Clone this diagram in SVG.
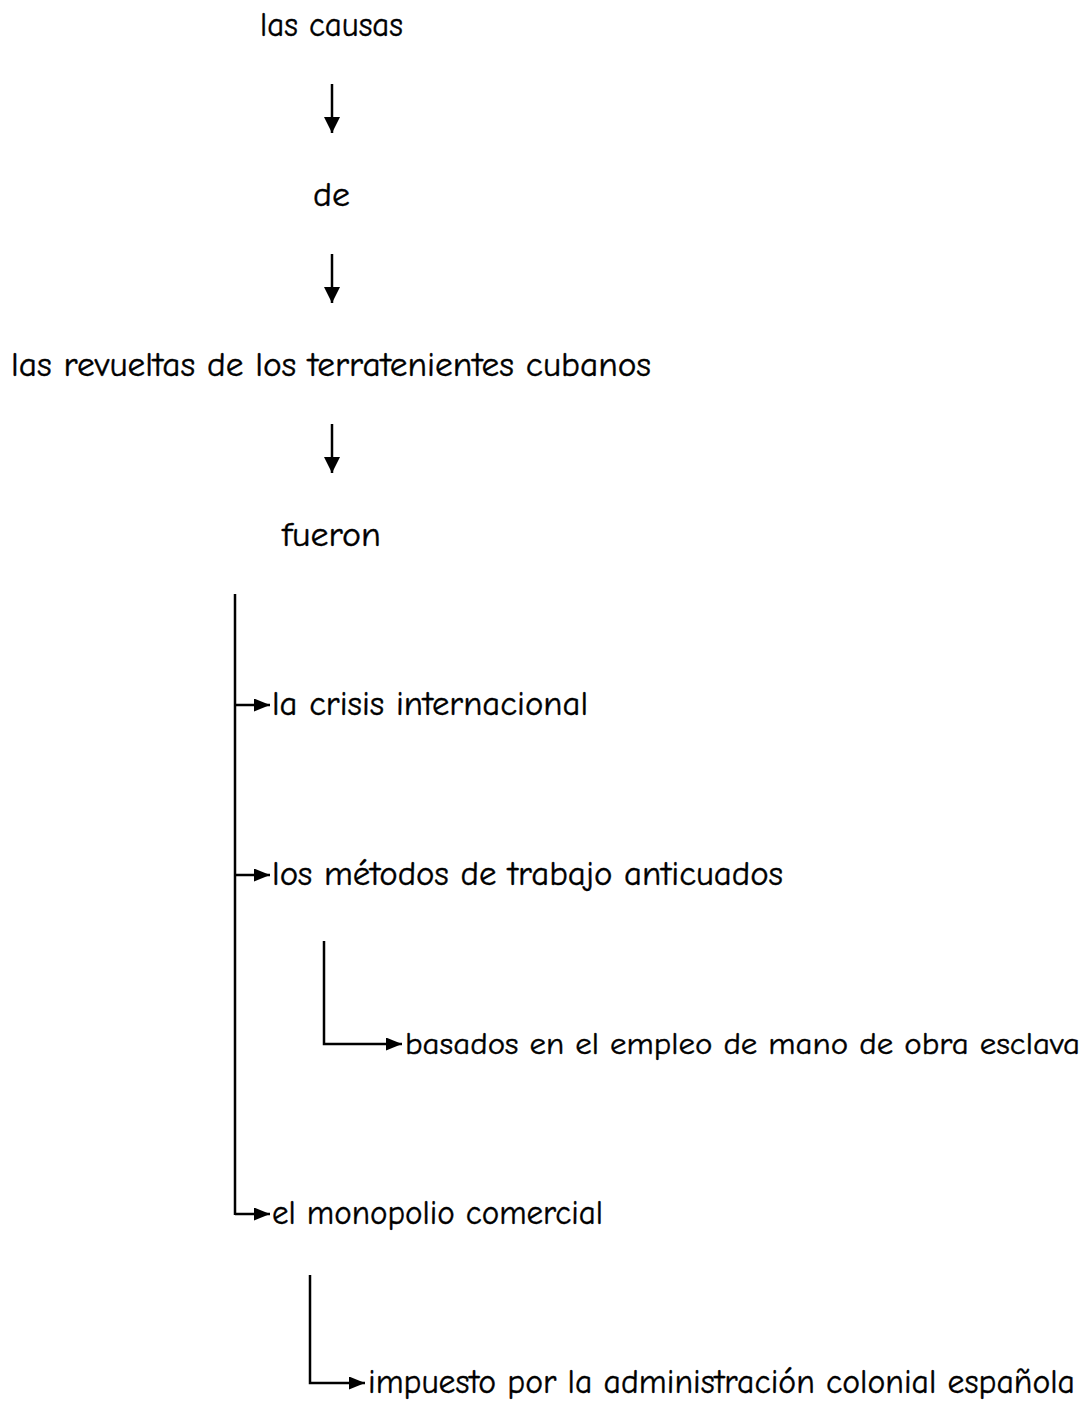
<svg xmlns="http://www.w3.org/2000/svg" width="1092" height="1405" viewBox="0 0 1092 1405">
<style>
  text { font-family: "Comic Sans MS", "Comic Neue", "Lato", "DejaVu Sans", sans-serif; font-size: 34px; fill: #000; stroke: #000; stroke-width: 0.4px; }
  .ln { stroke: #000; stroke-width: 2.5; fill: none; }
</style>
<defs>
  <marker id="hd" markerUnits="userSpaceOnUse" markerWidth="16" markerHeight="16" refX="16" refY="8" orient="auto" viewBox="0 0 16 16">
    <path d="M0,0 L16,8 L0,16 z" fill="#000"/>
  </marker>
  <marker id="hr" markerUnits="userSpaceOnUse" markerWidth="16" markerHeight="13" refX="16" refY="6.5" orient="auto" viewBox="0 0 16 13">
    <path d="M0,0 L16,6.5 L0,13 z" fill="#000"/>
  </marker>
</defs>
<rect width="1092" height="1405" fill="#fff"/>
<g id="connectors">
  <line class="ln" x1="332" y1="84" x2="332" y2="133" marker-end="url(#hd)"/>
  <line class="ln" x1="332" y1="254" x2="332" y2="303" marker-end="url(#hd)"/>
  <line class="ln" x1="332" y1="424" x2="332" y2="473" marker-end="url(#hd)"/>
  <line class="ln" x1="235" y1="594" x2="235" y2="1215"/>
  <line class="ln" x1="234" y1="705" x2="270" y2="705" marker-end="url(#hr)"/>
  <line class="ln" x1="234" y1="875" x2="270" y2="875" marker-end="url(#hr)"/>
  <polyline class="ln" points="235,1214 270,1214" marker-end="url(#hr)"/>
  <polyline class="ln" points="324,941 324,1044 402,1044" marker-end="url(#hr)"/>
  <polyline class="ln" points="310,1275 310,1383 365,1383" marker-end="url(#hr)"/>
</g>
<g id="n1"><text x="260" y="36" textLength="143" lengthAdjust="spacingAndGlyphs">las causas</text></g>
<g id="n2"><text x="313" y="206" textLength="37" lengthAdjust="spacingAndGlyphs">de</text></g>
<g id="n3"><text x="11" y="376" textLength="640" lengthAdjust="spacingAndGlyphs">las revueltas de los terratenientes cubanos</text></g>
<g id="n4"><text x="282" y="546" textLength="99" lengthAdjust="spacingAndGlyphs">fueron</text></g>
<g id="n5"><text x="272" y="715" textLength="316" lengthAdjust="spacingAndGlyphs">la crisis internacional</text></g>
<g id="n6"><text x="272" y="885" textLength="511" lengthAdjust="spacingAndGlyphs">los métodos de trabajo anticuados</text></g>
<g id="n7"><text x="405" y="1054" font-size="31" style="font-size:31px" textLength="675" lengthAdjust="spacingAndGlyphs">basados en el empleo de mano de obra esclava</text></g>
<g id="n8"><text x="272" y="1224" textLength="331" lengthAdjust="spacingAndGlyphs">el monopolio comercial</text></g>
<g id="n9"><text x="368" y="1393" textLength="707" lengthAdjust="spacingAndGlyphs">impuesto por la administración colonial española</text></g>
</svg>
